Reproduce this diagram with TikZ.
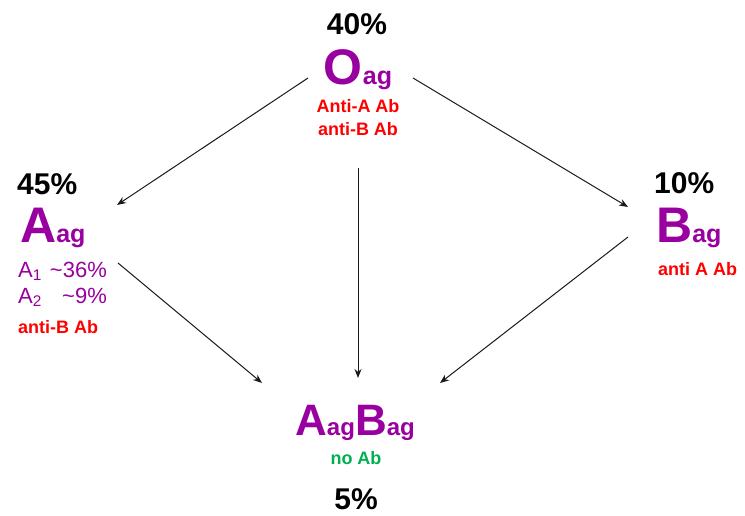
\documentclass[tikz,border=0pt]{standalone}
\usepackage{fontspec}
\setmainfont{Liberation Sans}
\usetikzlibrary{arrows.meta,calc}
\definecolor{agpurple}{RGB}{153,0,160}
\definecolor{abred}{RGB}{255,0,0}
\definecolor{abgreen}{RGB}{0,176,80}
\newcommand{\antigen}[3]{{\fontsize{#1}{#1}\selectfont #3}{\fontsize{#2}{#2}\selectfont ag}}

\begin{document}
\begin{tikzpicture}[x=1pt, y=-1pt,
    pct/.style={inner sep=0pt, font=\fontsize{30}{30}\selectfont\bfseries},
    antigen/.style={inner sep=0pt, text=agpurple, font=\bfseries},
    antibody/.style={inner sep=0pt, text=abred, font=\fontsize{18}{18}\selectfont\bfseries},
    subtype/.style={inner sep=0pt, text=agpurple, font=\fontsize{22}{26}\selectfont},
    link/.style={-{Stealth[length=9pt, width=7pt]}, line width=1pt, black!90}
]
\useasboundingbox (0,0) rectangle (745,516);

% Group O (top)
\node[pct, anchor=base] (pctO) at (357,35) {40\%};
\node[antigen, anchor=base] (O) at (358,85) {\antigen{50}{25}{O}};
\node[antibody, anchor=base] (antiAO) at (358,113) {Anti-A Ab};
\node[antibody, anchor=base] (antiBO) at (358,136) {anti-B Ab};

% Group A (left)
\node[pct, anchor=base west] (pctA) at (17,195) {45\%};
\node[antigen, anchor=base west] (A) at (20,243) {\antigen{50}{25}{A}};
\node[subtype, anchor=base west] (subA) at (18,277)
    {\begin{tabular}[t]{@{}l@{\hspace{8pt}}r@{}}
     A\textsubscript{1} & \textasciitilde36\% \\
     A\textsubscript{2} & \textasciitilde9\%
     \end{tabular}};
\node[antibody, anchor=base west] (antiBA) at (18,333) {anti-B Ab};

% Group B (right)
\node[pct, anchor=base west] (pctB) at (654,194) {10\%};
\node[antigen, anchor=base west] (B) at (656,243) {\antigen{50}{25}{B}};
\node[antibody, anchor=base west] (antiAB) at (658,275) {anti A Ab};

% Group AB (bottom)
\node[antigen, anchor=base] (AB) at (355,435) {\antigen{44}{24}{A}\antigen{44}{24}{B}};
\node[antibody, text=abgreen, anchor=base] (noAb) at (356,464) {no Ab};
\node[pct, anchor=base] (pctAB) at (356,509) {5\%};

% Arrows out of O
\draw[link] ($(O.base)+(-50,-7)$) -- ($(A.base west)+(97,-38)$);
\draw[link] ($(antiBO.base)+(0,32)$) -- ($(antiBO.base |- AB.base)+(0,-57)$);
\draw[link] ($(O.base)+(55,-7)$) -- ($(B.base west)+(-28,-36)$);

% Arrows into AB
\draw[link] ($(A.base west)+(98,20)$) -- ($(AB.base)+(-93,-52)$);
\draw[link] ($(B.base west)+(-28,-6)$) -- ($(AB.base)+(85,-52)$);
\end{tikzpicture}
\end{document}
